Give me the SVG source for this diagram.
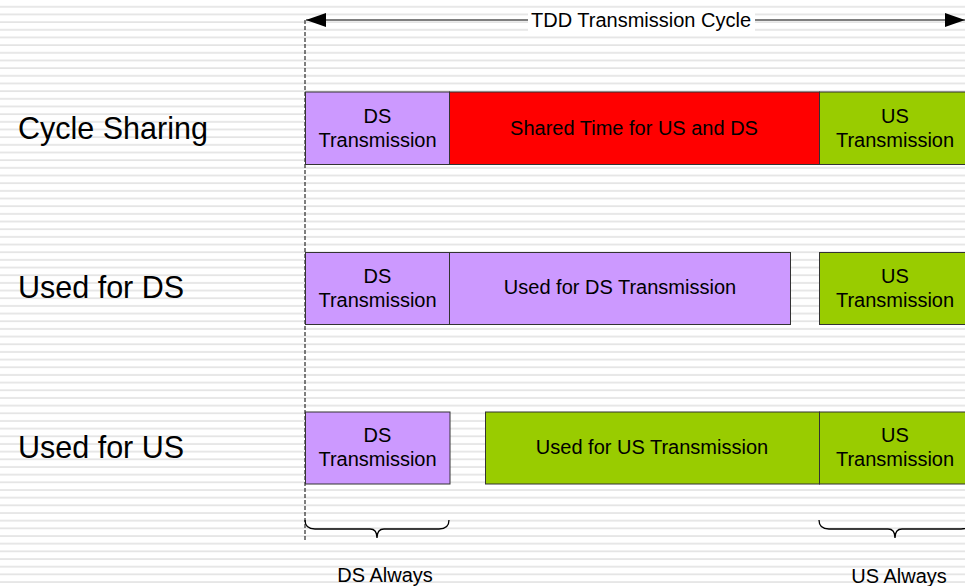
<svg xmlns="http://www.w3.org/2000/svg" width="965" height="586" viewBox="0 0 965 586">
<defs>
<pattern id="stripes" x="0" y="0" width="10" height="7.67" patternUnits="userSpaceOnUse">
<rect x="0" y="0" width="10" height="7.67" fill="#ffffff"/>
<rect x="0" y="6" width="10" height="1.6" fill="#e2e2e2"/>
</pattern>
<marker id="ah" viewBox="0 0 20 14" refX="20" refY="7" markerWidth="20" markerHeight="14" markerUnits="userSpaceOnUse" orient="auto-start-reverse">
<path d="M0,0 L20,7 L0,14 Z" fill="#000"/>
</marker>
<style>
text{font-family:"Liberation Sans",Arial,sans-serif;fill:#000}
.box{stroke:#333;stroke-width:1}
.ds{fill:#cc99ff}
.us{fill:#99cc00}
.red{fill:#ff0000}
.bt{font-size:20px;text-anchor:middle}
.lbl{font-size:30.5px}
.brace{fill:none;stroke:#000;stroke-width:1.3}
</style>
</defs>
<rect x="0" y="0" width="965" height="586" fill="url(#stripes)"/>

<g id="connectors">
<line x1="305" y1="20" x2="305" y2="540" stroke="#000" stroke-width="1" stroke-dasharray="4,2"/>
<line x1="306" y1="20" x2="965" y2="20" stroke="#555" stroke-width="1.5" marker-start="url(#ah)" marker-end="url(#ah)"/>
<rect x="528" y="8" width="227" height="23" fill="#ffffff"/>
<text x="641" y="27" class="bt">TDD Transmission Cycle</text>
<path class="brace" d="M305,520 Q305,529 315,529 L370,529 Q377,529 377,538 Q377,529 384,529 L439,529 Q449,529 449,520"/>
<path class="brace" d="M819,520 Q819,529 829,529 L888,529 Q895,529 895,538 Q895,529 902,529 L961,529 Q971,529 971,520"/>
</g>

<g id="label-cycle-sharing"><text x="18" y="139" class="lbl">Cycle Sharing</text></g>
<g id="label-used-ds"><text x="18" y="298" class="lbl">Used for DS</text></g>
<g id="label-used-us"><text x="18" y="458" class="lbl">Used for US</text></g>

<g id="r1-ds"><rect class="box ds" x="305.5" y="92" width="144" height="72.5"/><text class="bt" x="377.5" y="123">DS</text><text class="bt" x="377.5" y="147">Transmission</text></g>
<g id="r1-shared"><rect class="box red" x="449.5" y="92" width="370" height="72.5"/><text class="bt" x="634" y="135">Shared Time for US and DS</text></g>
<g id="r1-us"><rect class="box us" x="819.5" y="92" width="150" height="72.5"/><text class="bt" x="895" y="123">US</text><text class="bt" x="895" y="147">Transmission</text></g>

<g id="r2-ds"><rect class="box ds" x="305.5" y="252.5" width="144" height="72"/><text class="bt" x="377.5" y="283">DS</text><text class="bt" x="377.5" y="307">Transmission</text></g>
<g id="r2-used"><rect class="box ds" x="449.5" y="252.5" width="341" height="72"/><text class="bt" x="620" y="294">Used for DS Transmission</text></g>
<g id="r2-us"><rect class="box us" x="819.5" y="252.5" width="150" height="72"/><text class="bt" x="895" y="283">US</text><text class="bt" x="895" y="307">Transmission</text></g>

<g id="r3-ds"><rect class="box ds" x="305.5" y="412" width="144.5" height="72"/><text class="bt" x="377.5" y="442">DS</text><text class="bt" x="377.5" y="466">Transmission</text></g>
<g id="r3-used"><rect class="box us" x="485.5" y="412" width="334" height="72"/><text class="bt" x="652" y="454">Used for US Transmission</text></g>
<g id="r3-us"><rect class="box us" x="819.5" y="412" width="150" height="72"/><text class="bt" x="895" y="442">US</text><text class="bt" x="895" y="466">Transmission</text></g>

<g id="label-ds-always"><text class="bt" x="385" y="582">DS Always</text></g>
<g id="label-us-always"><text class="bt" x="899" y="583">US Always</text></g>
</svg>
